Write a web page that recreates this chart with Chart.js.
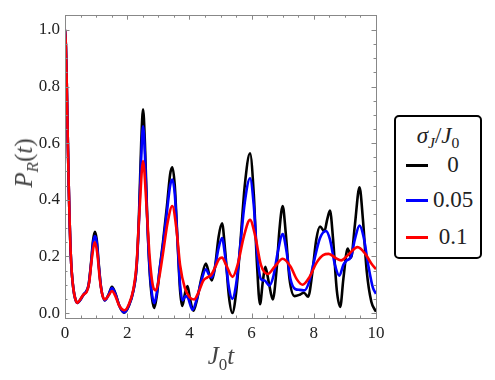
<!DOCTYPE html>
<html>
<head>
<meta charset="utf-8">
<script src="https://cdn.jsdelivr.net/npm/chart.js@4/dist/chart.umd.min.js"></script>
<style>
  html, body { margin: 0; padding: 0; background: #fff; }
  #wrap { position: relative; width: 495px; height: 380px; font-family: "Liberation Serif", "DejaVu Serif", serif; }
  #c { position: absolute; left: 0; top: 0; }
  .lbl { position: absolute; transform: translate(-50%, -50%); white-space: nowrap; color: #444; }
  .lbl i { font-style: italic; }
  .lbl sub { font-size: 0.68em; vertical-align: -0.35em; line-height: 0; }
  #ylab { left: 24px; top: 163px; font-size: 25px; transform: translate(-50%, -50%) rotate(-90deg); }
  #xlab { left: 221px; top: 356px; font-size: 25px; }
  #legend { position: absolute; left: 394px; top: 115px; width: 84px; height: 140px;
            border: 2px solid #000; border-radius: 5px; background: #fff; }
  #legend .t { position: absolute; transform: translate(-50%, -50%); white-space: nowrap; color: #222; }
  #legend .ttl { left: 42px; top: 19px; font-size: 23px; }
  #legend .ttl sub { font-size: 0.68em; vertical-align: -0.35em; line-height: 0; }
  #legend .sw { position: absolute; left: 10px; width: 22px; height: 2.5px; }
  #legend .v { left: 57px; font-size: 23px; }
</style>
</head>
<body>
<div id="wrap">
  <canvas id="c" width="495" height="380"></canvas>
  <div class="lbl" id="ylab"><i>P</i><sub><i>R</i></sub>(<i>t</i>)</div>
  <div class="lbl" id="xlab"><i>J</i><sub>0</sub><i>t</i></div>
  <div id="legend">
    <div class="t ttl"><i>σ</i><sub><i>J</i></sub>/<i>J</i><sub>0</sub></div>
    <div class="sw" style="top:47px;background:#000"></div><div class="t v" style="top:48px">0</div>
    <div class="sw" style="top:82px;background:#0000ff"></div><div class="t v" style="top:83px">0.05</div>
    <div class="sw" style="top:119px;background:#ff0000"></div><div class="t v" style="top:120px">0.1</div>
  </div>
</div>
<script>
// sigma_J / J0 = 0
const tBlack = [0, 0.03, 0.06, 0.09, 0.12, 0.15, 0.18, 0.22, 0.27, 0.33, 0.40, 0.50, 0.60, 0.68, 0.76, 0.84, 0.90, 0.96, 1.02, 1.08, 1.16, 1.28, 1.40, 1.51, 1.62, 1.75, 1.90, 2.05, 2.20, 2.30, 2.38, 2.45, 2.51, 2.57, 2.64, 2.72, 2.80, 2.87, 2.95, 3.05, 3.15, 3.28, 3.38, 3.45, 3.53, 3.62, 3.70, 3.77, 3.86, 3.94, 4.02, 4.13, 4.25, 4.40, 4.53, 4.63, 4.72, 4.82, 4.94, 5.05, 5.15, 5.27, 5.38, 5.50, 5.62, 5.78, 5.95, 6.07, 6.17, 6.27, 6.36, 6.44, 6.55, 6.68, 6.80, 6.90, 7.00, 7.10, 7.22, 7.38, 7.55, 7.68, 7.82, 7.95, 8.08, 8.20, 8.34, 8.43, 8.52, 8.62, 8.74, 8.85, 8.95, 9.09, 9.20, 9.32, 9.47, 9.58, 9.70, 9.85, 10];
const pBlack = [1.0, 0.94, 0.79, 0.61, 0.45, 0.32, 0.22, 0.14, 0.085, 0.05, 0.036, 0.048, 0.066, 0.076, 0.10, 0.18, 0.255, 0.287, 0.26, 0.18, 0.09, 0.045, 0.065, 0.093, 0.07, 0.025, 0.001, 0.025, 0.08, 0.16, 0.35, 0.60, 0.72, 0.60, 0.35, 0.15, 0.05, 0.018, 0.06, 0.16, 0.25, 0.38, 0.49, 0.515, 0.45, 0.25, 0.08, 0.025, 0.07, 0.095, 0.05, 0.008, 0.05, 0.13, 0.175, 0.14, 0.115, 0.16, 0.27, 0.317, 0.22, 0.06, 0.0, 0.07, 0.22, 0.45, 0.564, 0.42, 0.18, 0.031, 0.11, 0.163, 0.11, 0.048, 0.15, 0.30, 0.378, 0.28, 0.12, 0.06, 0.065, 0.072, 0.058, 0.14, 0.26, 0.306, 0.288, 0.33, 0.362, 0.26, 0.08, 0.022, 0.12, 0.228, 0.196, 0.31, 0.444, 0.33, 0.15, 0.04, 0.005];

// sigma_J / J0 = 0.05
const tBlue = [0, 0.03, 0.06, 0.09, 0.12, 0.15, 0.18, 0.22, 0.27, 0.33, 0.40, 0.50, 0.60, 0.68, 0.76, 0.84, 0.90, 0.96, 1.02, 1.08, 1.16, 1.28, 1.40, 1.51, 1.62, 1.75, 1.90, 2.05, 2.20, 2.30, 2.38, 2.45, 2.51, 2.57, 2.64, 2.72, 2.80, 2.87, 2.95, 3.05, 3.15, 3.28, 3.38, 3.45, 3.53, 3.62, 3.70, 3.78, 3.88, 3.95, 4.10, 4.25, 4.40, 4.53, 4.63, 4.72, 4.82, 4.94, 5.05, 5.15, 5.27, 5.38, 5.50, 5.62, 5.78, 5.95, 6.07, 6.17, 6.30, 6.42, 6.57, 6.70, 6.85, 7.00, 7.12, 7.25, 7.40, 7.55, 7.70, 7.85, 8.00, 8.20, 8.39, 8.52, 8.68, 8.82, 8.95, 9.05, 9.20, 9.32, 9.47, 9.60, 9.75, 9.90, 10];
const pBlue = [1.0, 0.94, 0.79, 0.61, 0.45, 0.32, 0.22, 0.14, 0.085, 0.05, 0.036, 0.048, 0.066, 0.076, 0.10, 0.175, 0.245, 0.272, 0.25, 0.175, 0.09, 0.045, 0.064, 0.088, 0.067, 0.025, 0.002, 0.026, 0.08, 0.16, 0.33, 0.55, 0.66, 0.56, 0.34, 0.16, 0.065, 0.035, 0.07, 0.16, 0.24, 0.36, 0.45, 0.472, 0.42, 0.25, 0.10, 0.045, 0.06, 0.055, 0.012, 0.055, 0.12, 0.155, 0.135, 0.125, 0.16, 0.23, 0.265, 0.20, 0.09, 0.05, 0.10, 0.22, 0.39, 0.476, 0.38, 0.22, 0.12, 0.115, 0.097, 0.13, 0.22, 0.279, 0.22, 0.12, 0.085, 0.082, 0.08, 0.11, 0.18, 0.265, 0.29, 0.26, 0.17, 0.132, 0.17, 0.185, 0.20, 0.26, 0.309, 0.27, 0.17, 0.09, 0.068];

// sigma_J / J0 = 0.1
const tRed = [0, 0.03, 0.06, 0.09, 0.12, 0.15, 0.18, 0.22, 0.27, 0.33, 0.40, 0.50, 0.60, 0.70, 0.78, 0.86, 0.96, 1.04, 1.12, 1.20, 1.28, 1.40, 1.51, 1.62, 1.75, 1.92, 2.05, 2.20, 2.30, 2.40, 2.51, 2.62, 2.72, 2.82, 2.92, 3.02, 3.15, 3.30, 3.45, 3.58, 3.70, 3.85, 4.00, 4.15, 4.30, 4.45, 4.58, 4.70, 4.82, 4.95, 5.05, 5.18, 5.39, 5.55, 5.75, 5.95, 6.12, 6.30, 6.52, 6.75, 7.00, 7.25, 7.45, 7.64, 7.85, 8.10, 8.30, 8.48, 8.70, 8.88, 9.10, 9.41, 9.65, 9.85, 10];
const pRed = [1.0, 0.94, 0.79, 0.61, 0.45, 0.32, 0.22, 0.14, 0.085, 0.05, 0.036, 0.05, 0.066, 0.075, 0.11, 0.19, 0.25, 0.21, 0.12, 0.065, 0.048, 0.062, 0.078, 0.06, 0.025, 0.01, 0.03, 0.085, 0.17, 0.37, 0.537, 0.38, 0.20, 0.10, 0.08, 0.12, 0.21, 0.32, 0.378, 0.30, 0.17, 0.09, 0.057, 0.048, 0.075, 0.115, 0.126, 0.135, 0.16, 0.19, 0.196, 0.17, 0.128, 0.17, 0.27, 0.329, 0.27, 0.17, 0.138, 0.165, 0.192, 0.165, 0.12, 0.10, 0.125, 0.18, 0.205, 0.209, 0.195, 0.186, 0.205, 0.233, 0.21, 0.175, 0.155];

const xTicks = [0, 2, 4, 6, 8, 10];
const yTicks = [0, 0.2, 0.4, 0.6, 0.8, 1.0];

const toXY = (ts, ps) => ts.map((t, i) => ({ x: t, y: ps[i] }));

function series(label, ts, ps, color, order) {
  return {
    label,
    data: toXY(ts, ps),
    borderColor: color,
    borderWidth: 2.6,
    pointRadius: 0,
    cubicInterpolationMode: 'monotone',
    fill: false,
    order,
  };
}

// Mathematica-style frame with inward ticks on all four sides
const framePlugin = {
  id: 'frame',
  afterDraw(chart) {
    const { ctx, chartArea: a, scales: { x, y } } = chart;
    ctx.save();
    ctx.strokeStyle = '#888';
    ctx.lineWidth = 1;
    ctx.strokeRect(Math.round(a.left) + 0.5, Math.round(a.top) + 0.5,
                   Math.round(a.right - a.left), Math.round(a.bottom - a.top));
    ctx.beginPath();
    for (let i = 0; i <= 20; i++) {
      const v = i * 0.5;
      const px = Math.round(x.getPixelForValue(v)) + 0.5;
      const len = i % 4 === 0 ? 4.5 : 2.5;
      ctx.moveTo(px, a.bottom); ctx.lineTo(px, a.bottom - len);
      ctx.moveTo(px, a.top);    ctx.lineTo(px, a.top + len);
    }
    for (let i = 0; i <= 20; i++) {
      const v = i * 0.05;
      const py = Math.round(y.getPixelForValue(v)) + 0.5;
      const len = i % 4 === 0 ? 4.5 : 2.5;
      ctx.moveTo(a.left, py);  ctx.lineTo(a.left + len, py);
      ctx.moveTo(a.right, py); ctx.lineTo(a.right - len, py);
    }
    ctx.stroke();
    ctx.restore();
  },
};

const tickFont = { family: '"Liberation Serif", serif', size: 17 };

new Chart(document.getElementById('c'), {
  type: 'line',
  data: {
    datasets: [
      series('0', tBlack, pBlack, '#000000', 2),
      series('0.05', tBlue, pBlue, '#0000ff', 1),
      series('0.1', tRed, pRed, '#ff0000', 0),
    ],
  },
  options: {
    responsive: false,
    animation: false,
    layout: { padding: { left: 0, top: 10, right: 119, bottom: 0 } },
    plugins: { legend: { display: false }, tooltip: { enabled: false } },
    scales: {
      x: {
        type: 'linear',
        min: 0,
        max: 10,
        grid: { display: false, drawTicks: false },
        border: { display: false },
        ticks: { font: tickFont, color: '#222', padding: 5, maxRotation: 0 },
        afterBuildTicks: (s) => { s.ticks = xTicks.map((v) => ({ value: v })); },
        afterFit: (s) => { s.height = 62; },
      },
      y: {
        type: 'linear',
        min: -0.0174,
        max: 1.052,
        grid: { display: false, drawTicks: false },
        border: { display: false },
        ticks: { font: tickFont, color: '#222', padding: 5, callback: (v) => Number(v).toFixed(1) },
        afterBuildTicks: (s) => { s.ticks = yTicks.map((v) => ({ value: v })); },
        afterFit: (s) => { s.width = 65; },
      },
    },
  },
  plugins: [framePlugin],
});
</script>
</body>
</html>
